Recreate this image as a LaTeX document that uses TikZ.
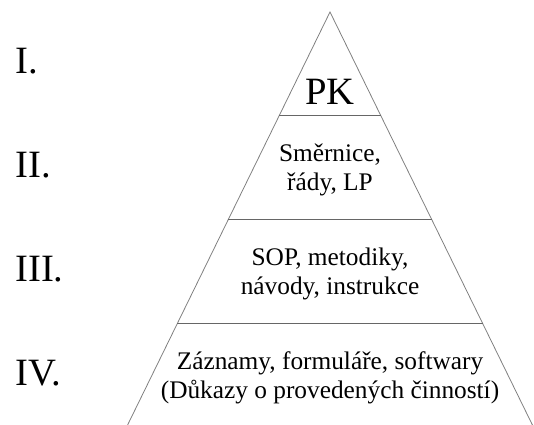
\documentclass[tikz,border=0pt]{standalone}
\usepackage{fontspec}
\setmainfont{Liberation Serif}
\usetikzlibrary{calc}
\begin{document}
\begin{tikzpicture}[x=0.75pt,y=-0.75pt,
	level/.style={font=\fontsize{29}{30}\selectfont,anchor=base west,inner sep=0pt},
	tier/.style={font=\fontsize{19}{22}\selectfont,align=center,inner sep=0pt},
	edge/.style={draw=gray,line width=0.6pt}]
	\useasboundingbox (0,0) rectangle (534,424);
	% pyramid
	\coordinate (top) at (330,12);
	\coordinate (bl) at (126.6,427);
	\coordinate (br) at (533.4,427);
	\begin{scope}
		\clip (0,0) rectangle (534,424);
		\draw[edge] (bl) -- (top) -- (br);
	\end{scope}
	\foreach \f in {0.25,0.5,0.75}
		\draw[edge,draw=gray!80!black,line width=0.8pt] ($(top)!\f!(bl)$) -- ($(top)!\f!(br)$);
	% levels
	\node[level](a) at (15,74) {I.};
	\node[level](b) at (15,177) {II.};
	\node[level](c) at (15,281) {III.};
	\node[level](d) at (15,385) {IV.};
	% tiers
	\node[font=\fontsize{29}{30}\selectfont,anchor=base,inner sep=0pt](e) at (330,105) {PK};
	\node[tier](f) at (330,170) {Směrnice,\\řády, LP};
	\node[tier](g) at (330,274) {SOP, metodiky,\\návody, instrukce};
	\node[tier](h) at (330,378) {Záznamy, formuláře, softwary\\(Důkazy o provedených činností)};
\end{tikzpicture}
\end{document}
